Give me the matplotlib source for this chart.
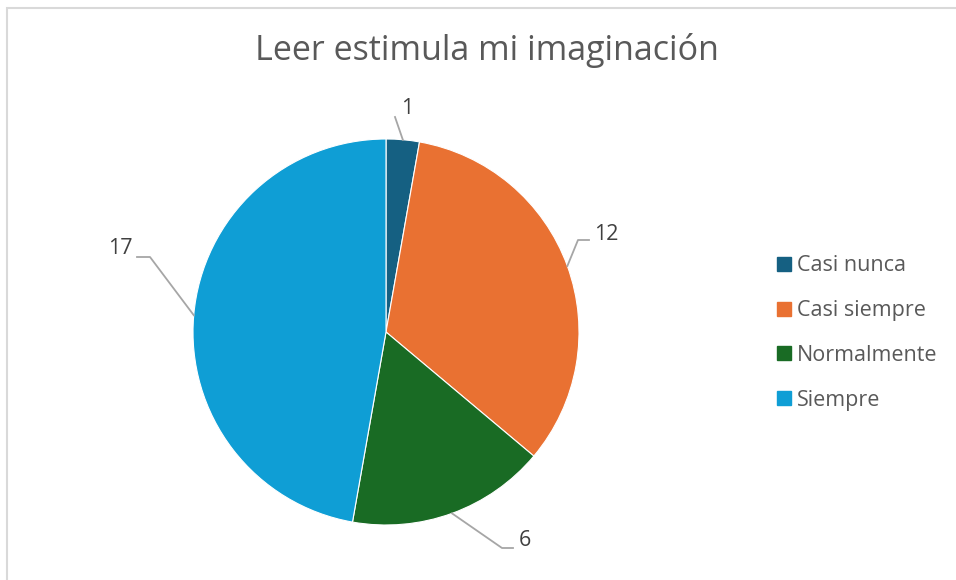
import numpy as np
import matplotlib
matplotlib.use("Agg")
import matplotlib.pyplot as plt
from matplotlib.lines import Line2D
from matplotlib.patches import Rectangle

categories = ["Casi nunca", "Casi siempre", "Normalmente", "Siempre"]
values = [1, 12, 6, 17]
colors = ["#156082", "#E97132", "#196B24", "#0F9ED5"]
title = "Leer estimula mi imaginación"

W, H = 956, 580
plt.rcParams['font.family'] = ['Open Sans', 'DejaVu Sans']
fig = plt.figure(figsize=(W / 100, H / 100), dpi=100)

# chart border
fig.add_artist(Rectangle((6.5 / W, -0.1), 2, 1 - 7.5 / H + 0.1, transform=fig.transFigure,
                         fill=False, edgecolor="#D9D9D9", linewidth=1.5))

cx, cy, r = 386, 332, 193
ax = fig.add_axes([(cx - r) / W, (H - cy - r) / H, 2 * r / W, 2 * r / H])
wedges, _ = ax.pie(values, colors=colors, startangle=90, counterclock=False, radius=1,
                   wedgeprops=dict(edgecolor="white", linewidth=0.8))
ax.set_xlim(-1, 1)
ax.set_ylim(-1, 1)
ax.set_aspect('auto')
ax.axis('off')


def px(x, y):
    return ((x - cx) / r, (cy - y) / r)

# leader elbow / text positions (pixels)
layout = [
    dict(elbow=[(395, 117)], text=(407, 108)),
    dict(elbow=[(578, 240), (589, 240)], text=(606, 235)),
    dict(elbow=[(502, 548), (513, 548)], text=(525, 541)),
    dict(elbow=[(150, 257), (137, 257)], text=(120, 249)),
]
total = sum(values)
start = 90.0
for v, lay in zip(values, layout):
    span = 360.0 * v / total
    mid = np.deg2rad(start - span / 2)
    start -= span
    pts = [(np.cos(mid), np.sin(mid))] + [px(*p) for p in lay['elbow']]
    xs, ys = zip(*pts)
    ax.add_line(Line2D(xs, ys, color="#A6A6A6", linewidth=1.3, clip_on=False))
    tx, ty = px(*lay['text'])
    ax.text(tx, ty, str(v), ha='center', va='center', fontsize=15.5, color="#404040", clip_on=False)

fig.text(487 / W, 1 - 51 / H, title, ha='center', va='center', fontsize=24.5, color="#595959")

handles = [Line2D([], [], marker='s', linestyle='none', markersize=10, markerfacecolor=c,
                  markeredgecolor=c) for c in colors]
fig.legend(handles, categories, loc='center left', bbox_to_anchor=(766 / W, 1 - 333 / H),
           frameon=False, fontsize=15.5, labelcolor="#595959", handlelength=0.7,
           handletextpad=0.25, labelspacing=1.1, borderpad=0)

fig.savefig("out.png", dpi=100, facecolor="white")
